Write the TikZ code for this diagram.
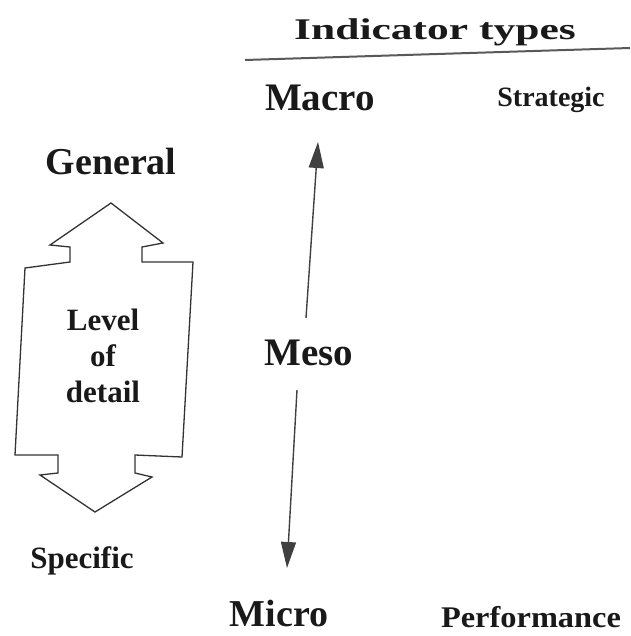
\documentclass[tikz,border=0pt]{standalone}
\usepackage{fontspec}
\setmainfont{Liberation Serif}
\usetikzlibrary{arrows.meta}
\tikzset{
  lbl/.style={font=\bfseries, inner sep=0pt, text=black!90},
  shapeline/.style={draw=black!80, line width=1.3pt, line join=miter},
  scaleline/.style={draw=black!75, line width=1.4pt},
  tri/.style={-{Triangle[width=15pt,length=26pt]}},
}
\begin{document}
\begin{tikzpicture}[x=1pt,y=-1pt]
\useasboundingbox (0,0) rectangle (630,636);
% header
\node[lbl, font=\bfseries\fontsize{30}{30}\selectfont, xscale=1.45] (hdr) at (435,32) {Indicator types};
\coordinate (rl) at (245,60);
\coordinate (rr) at (630,48);
\draw[draw=black!65, line width=2pt] (rl) -- (rr);
% labels
\node[lbl, font=\bfseries\fontsize{39}{39}\selectfont] (macro) at (320,98) {Macro};
\node[lbl, font=\bfseries\fontsize{39}{39}\selectfont] (meso) at (309,353) {Meso};
\node[lbl, font=\bfseries\fontsize{38}{38}\selectfont] (micro) at (279,613) {Micro};
\node[lbl, font=\bfseries\fontsize{28}{28}\selectfont] (strat) at (551,100) {Strategic};
\node[lbl, font=\bfseries\fontsize{30}{30}\selectfont, xscale=1.08] (perf) at (531,617) {Performance};
\node[lbl, font=\bfseries\fontsize{38}{38}\selectfont] (gen) at (111,162) {General};
\node[lbl, font=\bfseries\fontsize{31}{31}\selectfont] (spec) at (82,561) {Specific};
% double arrow shape
\draw[shapeline] (111,203) -- (50,245) -- (70,247) -- (70,262) -- (25,268)
  -- (15,455) -- (58,455) -- (58,473) -- (40,475) -- (95,512)
  -- (152,477) -- (135,473) -- (135,455) -- (182,457) -- (193,262)
  -- (142,262) -- (142,247) -- (163,243) -- cycle;
\node[lbl, font=\bfseries\fontsize{31}{36}\selectfont, align=center] (lod) at (103,356) {Level\\of\\detail};
% scale arrows
\coordinate (upstart) at (306,318);
\coordinate (uptip) at (318,142);
\coordinate (dnstart) at (297,390);
\coordinate (dntip) at (287,568);
\draw[scaleline, tri] (upstart) -- (uptip);
\draw[scaleline, tri] (dnstart) -- (dntip);
\end{tikzpicture}
\end{document}
